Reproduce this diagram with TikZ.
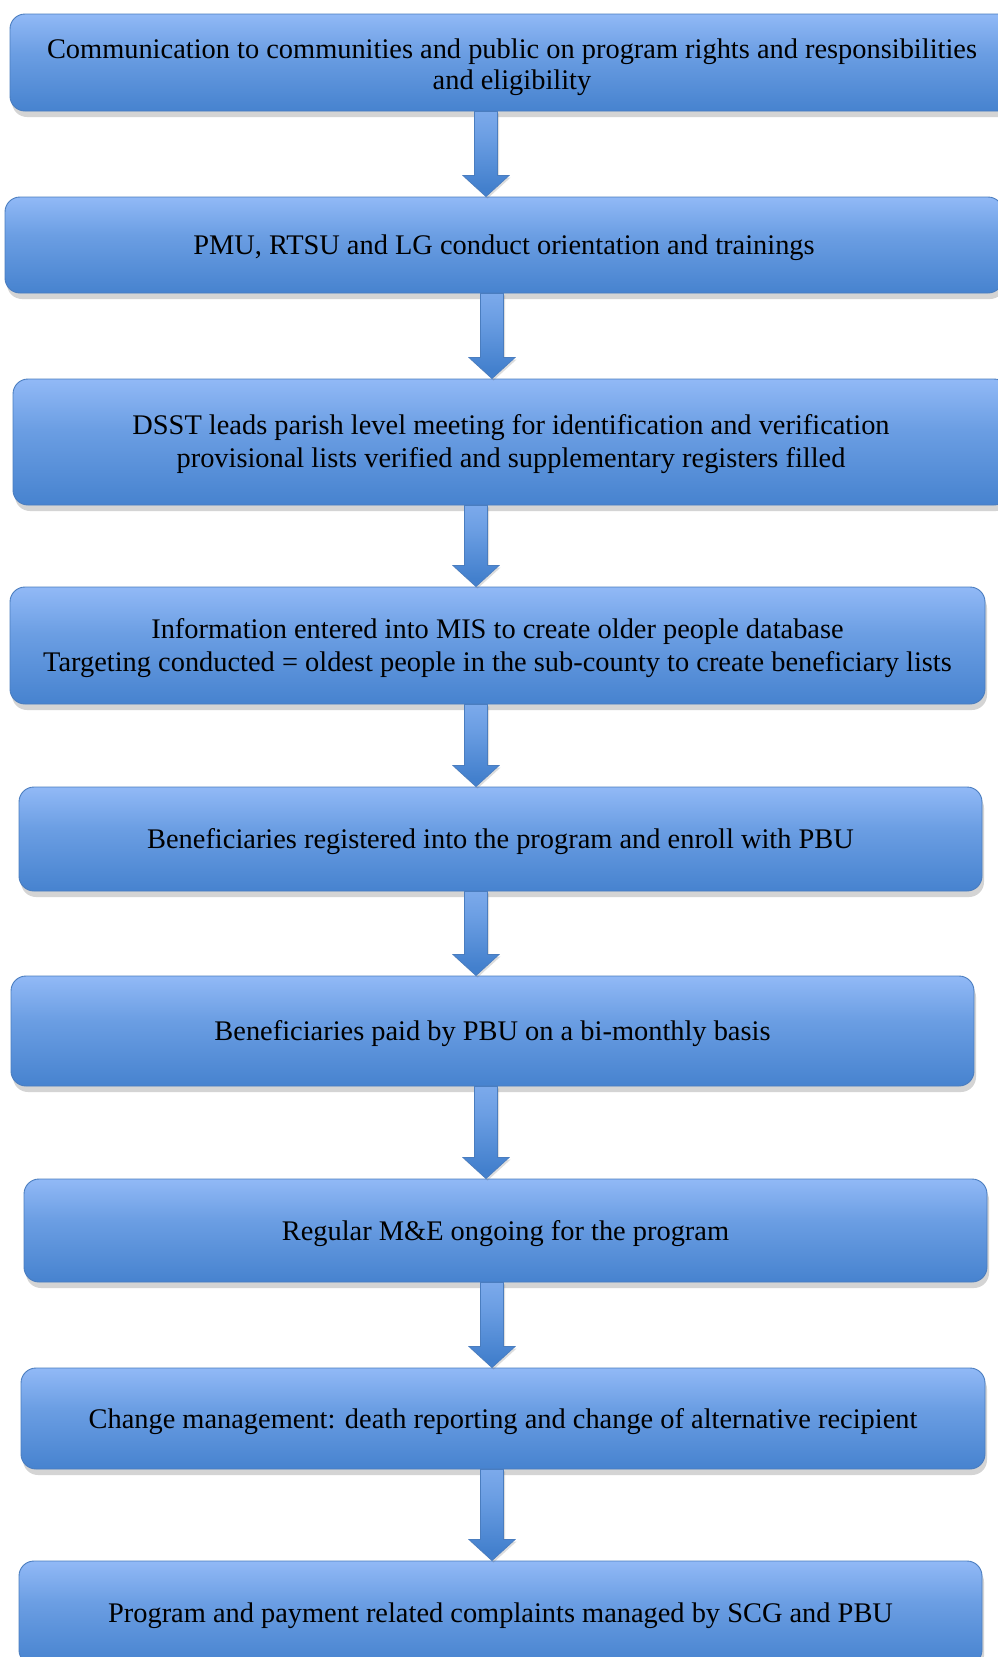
\documentclass[tikz,border=0pt]{standalone}
\usepackage{fontspec}
\setmainfont{Liberation Serif}
\usetikzlibrary{calc,shadows}

% colours of the blue process boxes and block arrows
\definecolor{boxlight}{HTML}{97BDF9}
\definecolor{boxmid}{HTML}{6B9EE3}
\definecolor{boxdark}{HTML}{4380CD}
\definecolor{boxline}{HTML}{4A7DBF}

% vertical shading: dark at the bottom, light over the upper part
\pgfdeclareverticalshading{boxshade}{100bp}{%
  color(0bp)=(boxdark); color(22bp)=(boxdark); color(55bp)=(boxmid);
  color(78bp)=(boxlight); color(100bp)=(boxlight)}
\pgfdeclareverticalshading{arrowshade}{100bp}{%
  color(0bp)=(boxdark); color(30bp)=(boxdark); color(60bp)=(boxmid);
  color(100bp)=(boxlight)}

\tikzset{
  stagebox/.style={
    rounded corners=15pt, shading=boxshade, draw=boxline, line width=0.9pt,
    align=center, inner sep=0pt, text=black,
    font=\fontsize{28.4}{32}\selectfont,
    % fixed strut above the text block and below its last line
    execute at begin node={\rule{0pt}{26.5pt}},
    execute at end node={\rule[-7pt]{0pt}{7pt}},
    drop shadow={shadow xshift=2pt, shadow yshift=-6pt, opacity=0.28,
                 fill=black!60}},
  % two-line boxes: line spacing and a strut spanning both lines
  twoline/.style 2 args={
    font=\fontsize{28.4}{#2}\selectfont,
    execute at begin node={\rule{0pt}{#1}}},
  blockarrow/.style={
    shading=arrowshade, draw=boxline, line width=0.7pt, line join=miter,
    drop shadow={shadow xshift=1.5pt, shadow yshift=-2pt, opacity=0.22,
                 fill=black!60}}
}

% block arrow at horizontal position #1 from the bottom of #2 to the top of #3
\newcommand\flowarrow[3]{%
  \path[blockarrow] let \p1=(#2.south), \p2=(#3.north) in
    (#1pt-11.5pt,\y1) -- (#1pt+11.5pt,\y1) -- (#1pt+11.5pt,\y2+21pt)
    -- (#1pt+23pt,\y2+21pt) -- (#1pt,\y2) -- (#1pt-23pt,\y2+21pt)
    -- (#1pt-11.5pt,\y2+21pt) -- cycle;}

\begin{document}
\begin{tikzpicture}[x=1pt,y=-1pt]
  \useasboundingbox (0,0) rectangle (998,1657);
  \clip (0,0) rectangle (998,1657);
  \fill[white] (0,0) rectangle (998,1657);

  \node[stagebox, twoline={60.5pt}{31}, minimum width=1004pt, minimum height=97pt] (b1) at (512,62.5)
    {Communication to communities and public on program rights and responsibilities\\and eligibility};
  \node[stagebox, minimum width=998pt, minimum height=96pt] (b2) at (504,245)
    {PMU, RTSU and LG conduct orientation and trainings};
  \node[stagebox, twoline={58.5pt}{33}, minimum width=996pt, minimum height=126pt] (b3) at (511,442)
    {DSST leads parish level meeting for identification and verification\\provisional lists verified and supplementary registers filled};
  \node[stagebox, twoline={58.5pt}{33}, minimum width=975pt, minimum height=117pt] (b4) at (497.5,645.5)
    {Information entered into MIS to create older people database\\Targeting conducted = oldest people in the sub-county to create beneficiary lists};
  \node[stagebox, minimum width=963pt, minimum height=104pt] (b5) at (500.5,839)
    {Beneficiaries registered into the program and enroll with PBU};
  \node[stagebox, minimum width=963pt, minimum height=110pt] (b6) at (492.5,1031)
    {Beneficiaries paid by PBU on a bi-monthly basis};
  \node[stagebox, minimum width=963pt, minimum height=103pt] (b7) at (505.5,1230.5)
    {Regular M\&E ongoing for the program};
  \node[stagebox, minimum width=964pt, minimum height=101pt] (b8) at (503,1418.5)
    {Change management: death reporting and change of alternative recipient};
  \node[stagebox, minimum width=963pt, minimum height=104pt] (b9) at (500.5,1613)
    {Program and payment related complaints managed by SCG and PBU};

  \flowarrow{486}{b1}{b2}
  \flowarrow{492}{b2}{b3}
  \flowarrow{476}{b3}{b4}
  \flowarrow{476}{b4}{b5}
  \flowarrow{476}{b5}{b6}
  \flowarrow{486}{b6}{b7}
  \flowarrow{492}{b7}{b8}
  \flowarrow{492}{b8}{b9}
\end{tikzpicture}
\end{document}
